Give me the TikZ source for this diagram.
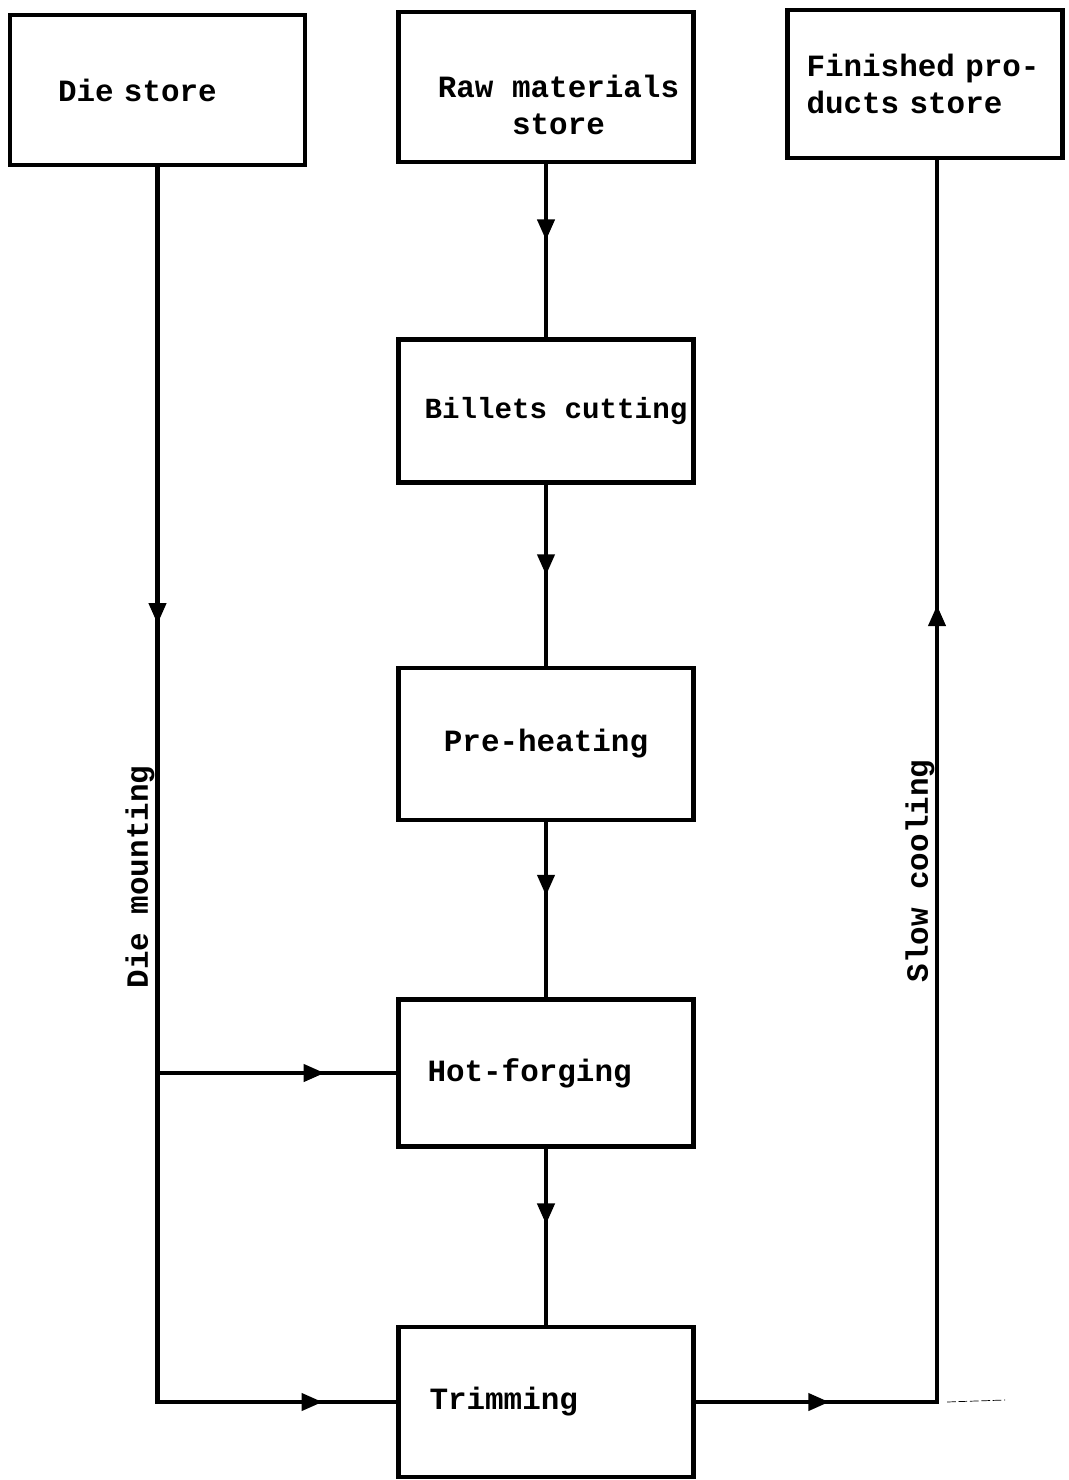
\documentclass[tikz,border=0pt]{standalone}
\usepackage{fontspec}
\newfontfamily\mono{Liberation Mono}
\usetikzlibrary{positioning, arrows.meta, calc, decorations.markings}
\tikzset{
  mid/.style={postaction={decorate, decoration={markings,
    mark=at position #1 with {\arrow{Triangle[length=0.42cm, width=0.34cm]}}}}},
  pad/.style={inner xsep=#1, align=left}
}

\begin{document}
\begin{tikzpicture}[
  stage/.style={draw, line width=2.6pt, minimum width=5.9cm, minimum height=3cm, inner sep=0pt,
    font=\mono\bfseries\fontsize{17.6}{21}\selectfont},
  flow/.style={line width=2.4pt},
  lab/.style={font=\mono\bfseries\fontsize{17.6}{21}\selectfont, rotate=90}]
\useasboundingbox (0,0) rectangle (21.36,-29.6);
\node[stage, pad=0.96cm, text width=3.98cm] (die) at (3.15,-1.8) {Die store};
\node[stage, align=center] (raw) at (10.92,-1.74) {\rule{0pt}{1.16cm}\hspace*{0.5cm}Raw materials\\\hspace*{0.5cm}store};
\node[stage, minimum width=5.5cm, minimum height=2.96cm, pad=0.38cm, text width=4.74cm] (fin) at (18.5,-1.68) {Finished pro-\\ducts store};
\node[stage, minimum height=2.86cm, font=\mono\bfseries\fontsize{16.6}{20}\selectfont] (cut) at (10.92,-8.22) {\hspace*{0.4cm}Billets cutting};
\node[stage, minimum height=3.04cm] (heat) at (10.92,-14.88) {Pre-heating};
\node[stage, minimum height=2.94cm, pad=0.58cm, text width=4.74cm] (forge) at (10.92,-21.46) {Hot-forging};
\node[stage, pad=0.62cm, text width=4.66cm] (trim) at (10.92,-28.04) {Trimming};
% left branch
\coordinate (fork) at (die.south |- forge.west);
\draw[flow, mid=0.31, mid=0.95] (die.south) |- (trim.west);
\draw[flow, mid=0.7] (fork) -- (forge.west);
% main column
\draw[flow, mid=0.44] (raw.south) -- (cut.north);
\draw[flow, mid=0.5] (cut.south) -- (heat.north);
\draw[flow, mid=0.42] (heat.south) -- (forge.north);
\draw[flow, mid=0.43] (forge.south) -- (trim.north);
% right branch
\coordinate (turn) at ($(trim.east -| fin.south)+(0.24,0)$);
\coordinate (tail) at ($(turn)+(1.36,0.04)$);
\draw[flow, mid=0.09, mid=0.7] (trim.east) -- (turn) -- (turn |- fin.south);
\draw[thin, dash pattern=on 5pt off 1.5pt] ([xshift=0.2cm]turn) -- (tail);
\node[lab] (mount) at (2.8,-17.54) {Die mounting};
\node[lab] (cool) at (18.4,-17.42) {Slow cooling};
\end{tikzpicture}
\end{document}
